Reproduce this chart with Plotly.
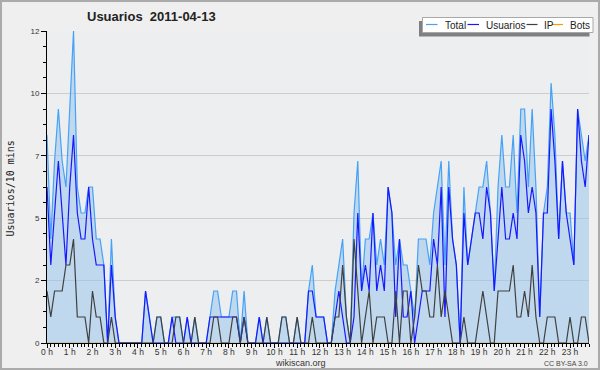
import plotly.graph_objects as go

# ---- data (10-minute slots, 144 per day) ----
HOUR_LABELS = ["0 h", "1 h", "2 h", "3 h", "4 h", "5 h", "6 h", "7 h", "8 h", "9 h", "10 h", "11 h",
               "12 h", "13 h", "14 h", "15 h", "16 h", "17 h", "18 h", "19 h", "20 h", "21 h", "22 h", "23 h"]

TOTAL = [8, 4, 7, 9, 7, 6, 9, 12, 6, 5, 5, 6,
         6, 4, 4, 3, 0, 4, 1, 0, 0, 0, 0, 0,
         0, 0, 2, 1, 0, 1, 1, 0, 0, 1, 1, 1,
         0, 1, 0, 1, 0, 0, 0, 1, 2, 2, 1, 1,
         1, 2, 2, 0, 2, 0, 0, 0, 1, 0, 1, 0,
         0, 0, 1, 1, 0, 0, 1, 0, 0, 2, 3, 1,
         1, 1, 0, 0, 2, 3, 4, 1, 0, 5, 7, 2,
         4, 4, 5, 3, 4, 3, 6, 5, 3, 4, 3, 3,
         2, 1, 4, 4, 4, 3, 5, 6, 7, 3, 7, 4,
         3, 0, 6, 3, 4, 5, 6, 6, 7, 5, 2, 6,
         8, 6, 6, 8, 5, 9, 9, 6, 9, 6, 1, 5,
         6, 10, 8, 4, 7, 5, 5, 3, 9, 8, 7, 8]

USUARIOS = [6, 3, 5, 7, 5, 3, 6, 8, 5, 4, 4, 6,
            4, 3, 3, 3, 0, 3, 1, 0, 0, 0, 0, 0,
            0, 0, 2, 1, 0, 0, 0, 0, 0, 1, 0, 0,
            0, 1, 0, 0, 0, 0, 0, 1, 1, 1, 1, 1,
            1, 1, 1, 0, 1, 0, 0, 0, 1, 0, 0, 0,
            0, 0, 0, 0, 0, 0, 0, 0, 0, 2, 2, 1,
            1, 1, 0, 0, 1, 2, 1, 0, 0, 1, 5, 2,
            3, 2, 5, 2, 3, 2, 6, 5, 1, 4, 1, 1,
            2, 0, 1, 2, 2, 2, 4, 3, 6, 1, 6, 4,
            3, 0, 5, 3, 4, 5, 5, 4, 6, 5, 2, 4,
            6, 4, 4, 5, 4, 8, 7, 5, 6, 5, 1, 5,
            5, 9, 7, 4, 7, 5, 4, 3, 9, 7, 6, 8]

IP = [2, 1, 2, 2, 2, 3, 3, 4, 1, 1, 1, 0,
      2, 1, 1, 0, 0, 1, 0, 0, 0, 0, 0, 0,
      0, 0, 0, 0, 0, 1, 1, 0, 0, 0, 1, 1,
      0, 0, 0, 1, 0, 0, 0, 0, 1, 1, 0, 0,
      0, 1, 1, 0, 1, 0, 0, 0, 0, 0, 1, 0,
      0, 0, 1, 1, 0, 0, 1, 0, 0, 0, 1, 0,
      0, 0, 0, 0, 1, 1, 3, 1, 0, 4, 2, 0,
      1, 2, 0, 1, 1, 1, 0, 0, 2, 0, 2, 2,
      0, 1, 3, 2, 2, 1, 1, 3, 1, 2, 1, 0,
      0, 0, 1, 0, 0, 0, 1, 2, 1, 0, 0, 2,
      2, 2, 2, 3, 1, 1, 2, 1, 3, 1, 0, 0,
      1, 1, 1, 0, 0, 0, 1, 0, 0, 1, 1, 0]

BOTS = [0, 0, 0, 0, 0, 0, 0, 0, 0, 0, 0, 0,
        0, 0, 0, 0, 0, 0, 0, 0, 0, 0, 0, 0,
        0, 0, 0, 0, 0, 0, 0, 0, 0, 0, 0, 0,
        0, 0, 0, 0, 0, 0, 0, 0, 0, 0, 0, 0,
        0, 0, 0, 0, 0, 0, 0, 0, 0, 0, 0, 0,
        0, 0, 0, 0, 0, 0, 0, 0, 0, 0, 0, 0,
        0, 0, 0, 0, 0, 0, 0, 0, 0, 0, 0, 0,
        0, 0, 0, 0, 0, 0, 0, 0, 0, 0, 0, 0,
        0, 0, 0, 0, 0, 0, 0, 0, 0, 0, 0, 0,
        0, 0, 0, 0, 0, 0, 0, 0, 0, 0, 0, 0,
        0, 0, 0, 0, 0, 0, 0, 0, 0, 0, 0, 0,
        0, 0, 0, 0, 0, 0, 0, 0, 0, 0, 0, 0]

Y_TICKVALS = [0, 2.4, 4.8, 7.2, 9.6, 12]
Y_TICKTEXT = ["0", "2", "5", "7", "10", "12"]

SLOTS = list(range(len(TOTAL)))          # 10-minute slot index
HOUR_TICKS = [h * 6 for h in range(len(HOUR_LABELS))]

# ---- colours ----
C_TOTAL = "#45a2f7"
C_USU = "#1818ff"
C_IP = "#404040"
C_BOTS = "#ff9900"

W, H = 600, 370
L, R, T, B = 47, 11, 31, 27


def px(x):
    return (x - L) / (W - L - R)


def py(y):
    return (H - B - y) / (H - T - B)


SANS = "Liberation Sans, Arial, sans-serif"

fig = go.Figure()
fig.add_trace(go.Scatter(x=SLOTS, y=BOTS, mode="lines", line=dict(color=C_BOTS, width=1),
                         showlegend=False, hoverinfo="skip"))
fig.add_trace(go.Scatter(x=SLOTS, y=TOTAL, mode="lines", fill="tozeroy",
                         fillcolor="rgba(150,196,236,0.52)",
                         line=dict(color=C_TOTAL, width=1.2), showlegend=False))
fig.add_trace(go.Scatter(x=SLOTS, y=USUARIOS, mode="lines",
                         line=dict(color=C_USU, width=1.2), showlegend=False))
fig.add_trace(go.Scatter(x=SLOTS, y=IP, mode="lines",
                         line=dict(color=C_IP, width=1.2), showlegend=False))

shapes = []
# outer border
shapes.append(dict(type="rect", xref="paper", yref="paper",
                   x0=px(1), x1=px(599), y0=py(1), y1=py(369),
                   line=dict(color="#ababab", width=2), fillcolor="rgba(0,0,0,0)", layer="above"))
# legend shadow + box
shapes.append(dict(type="rect", xref="paper", yref="paper",
                   x0=px(419), x1=px(589.5), y0=py(21), y1=py(36.5),
                   line=dict(width=0), fillcolor="#808080", layer="above"))
shapes.append(dict(type="rect", xref="paper", yref="paper",
                   x0=px(422.5), x1=px(593), y0=py(17.5), y1=py(32.5),
                   line=dict(color="#a8a8a8", width=1), fillcolor="#ffffff", layer="above"))

annotations = []
legend_items = [("Total", C_TOTAL, 426, 437.5, 442.5),
                ("Usuarios", C_USU, 467.5, 479, 484),
                ("IP", C_IP, 526.5, 537.5, 542),
                ("Bots", C_BOTS, 551.5, 563, 567.5)]
for name, col, lx0, lx1, tx in legend_items:
    shapes.append(dict(type="line", xref="paper", yref="paper",
                       x0=px(lx0), x1=px(lx1), y0=py(24.5), y1=py(24.5),
                       line=dict(color=col, width=1.2), layer="above"))
    annotations.append(dict(text=name, xref="paper", yref="paper", x=px(tx), y=py(25),
                            xanchor="left", yanchor="middle", showarrow=False,
                            font=dict(family=SANS, size=10, color="#222222")))

annotations.append(dict(text="<b>Usuarios  2011-04-13</b>", xref="paper", yref="paper",
                        x=px(151), y=py(16.5), xanchor="center", yanchor="middle",
                        showarrow=False, font=dict(family=SANS, size=13, color="#222222")))
annotations.append(dict(text="Usuarios/10 mins", xref="paper", yref="paper",
                        x=px(10), y=py(188.5), xanchor="center", yanchor="middle",
                        textangle=-90, showarrow=False,
                        font=dict(family="DejaVu Sans Mono, monospace", size=10, color="#222222")))
annotations.append(dict(text="wikiscan.org", xref="paper", yref="paper",
                        x=px(300), y=py(363), xanchor="center", yanchor="middle",
                        showarrow=False, font=dict(family=SANS, size=9, color="#333333")))
annotations.append(dict(text="CC BY-SA 3.0", xref="paper", yref="paper",
                        x=px(590), y=py(363), xanchor="right", yanchor="middle",
                        showarrow=False, font=dict(family=SANS, size=7, color="#444444")))

fig.update_layout(
    width=W, height=H,
    margin=dict(l=L, r=R, t=T, b=B, pad=0),
    paper_bgcolor="#efefef",
    plot_bgcolor="#eceef0",
    showlegend=False,
    shapes=shapes,
    annotations=annotations,
    xaxis=dict(range=[0, 143], tickmode="array", tickvals=HOUR_TICKS, ticktext=HOUR_LABELS,
               ticks="outside", ticklen=4, tickwidth=1, tickcolor="#000000",
               showline=True, linecolor="#000000", linewidth=1, showgrid=False, zeroline=False,
               tickfont=dict(family=SANS, size=8.5, color="#333333"),
               ticklabelstandoff=-3,
               minor=dict(tickmode="linear", tick0=0, dtick=1, ticks="outside", ticklen=3,
                          tickcolor="#000000", tickwidth=1, showgrid=False),
               fixedrange=True),
    yaxis=dict(range=[0, 12], tickmode="array", tickvals=Y_TICKVALS, ticktext=Y_TICKTEXT,
               ticks="outside", ticklen=5, tickwidth=1, tickcolor="#000000",
               showline=True, linecolor="#000000", linewidth=1,
               showgrid=True, gridcolor="#cdcdcd", gridwidth=1, zeroline=False,
               tickfont=dict(family=SANS, size=8, color="#333333"),
               minor=dict(tickmode="linear", tick0=0, dtick=0.6, ticks="outside", ticklen=3,
                          tickcolor="#000000", tickwidth=1, showgrid=False),
               fixedrange=True),
)

fig.write_html("out.html", config={"displayModeBar": False},
               post_script="document.body.style.margin='0';document.body.style.overflow='hidden';")
